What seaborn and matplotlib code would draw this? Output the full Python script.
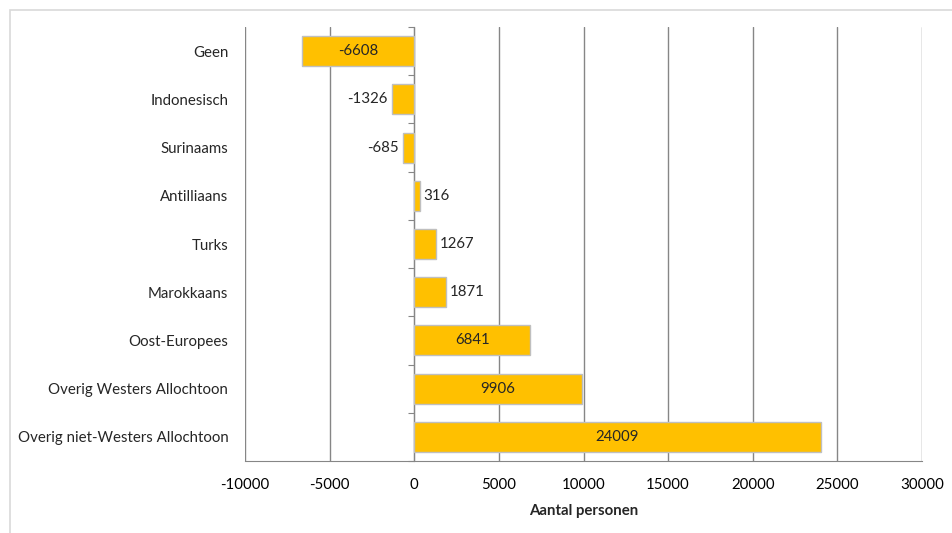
import matplotlib
matplotlib.use("Agg")
import matplotlib.pyplot as plt
import seaborn as sns
import pandas as pd
from matplotlib.patches import Rectangle

# chart data
categories = ["Geen", "Indonesisch", "Surinaams", "Antilliaans", "Turks",
              "Marokkaans", "Oost-Europees", "Overig Westers Allochtoon",
              "Overig niet-Westers Allochtoon"]
values = [-6608, -1326, -685, 316, 1267, 1871, 6841, 9906, 24009]
x_ticks = [-10000, -5000, 0, 5000, 10000, 15000, 20000, 25000, 30000]

df = pd.DataFrame({"Groep": categories, "Aantal": values})

sns.set_style("white")
plt.rcParams["font.family"] = ["Lato", "DejaVu Sans"]
fs = 10.8

grid_col = "#868686"

fig = plt.figure(figsize=(9.52, 5.33), dpi=100)
ax = fig.add_axes([245 / 952, 1 - 461 / 533, 677 / 952, 434 / 533])

# outer chart border
fig.patches.append(Rectangle((10 / 952, -0.1), 1.2, 1 - 10 / 533 + 0.1,
                             transform=fig.transFigure, fill=False,
                             edgecolor="#d9d9d9", linewidth=1.2))

sns.barplot(data=df, y="Groep", x="Aantal", orient="h", color="#FFC000",
            edgecolor="#bfbfbf", linewidth=1, width=0.62, saturation=1, ax=ax)

ax.set_xlim(x_ticks[0], x_ticks[-1])
ax.set_ylim(len(categories) - 0.5, -0.5)
ax.set_xticks(x_ticks)
ax.set_xticklabels([str(t) for t in x_ticks])
ax.xaxis.grid(True, color=grid_col, linewidth=1)
ax.set_axisbelow(True)

for s in ["top", "right", "left"]:
    ax.spines[s].set_visible(False)
ax.spines["bottom"].set_color(grid_col)
ax.tick_params(axis="x", direction="out", length=5, color=grid_col,
               labelcolor="black", pad=7, labelsize=fs)
ax.tick_params(axis="y", length=0, pad=12, labelsize=fs)

# category axis at x = 0 with boundary ticks
zero_pos = (0 - x_ticks[0]) / (x_ticks[-1] - x_ticks[0])
sec = ax.secondary_yaxis(zero_pos)
sec.set_yticks([i + 0.5 for i in range(-1, len(categories))])
sec.set_yticklabels([])
sec.tick_params(length=4, color=grid_col)
sec.spines["left"].set_color(grid_col)

ax.set_ylabel("")
ax.set_xlabel("Aantal personen", fontweight="bold", labelpad=9, fontsize=fs)

# data labels: inside for long bars, outside for short ones
inside = [str(v) if abs(v) > 3000 else "" for v in values]
outside = [str(v) if abs(v) <= 3000 else "" for v in values]
cont = ax.containers[0]
ax.bar_label(cont, labels=inside, label_type="center", fontsize=fs)
ax.bar_label(cont, labels=outside, label_type="edge", padding=3, fontsize=fs)

fig.savefig("out.png", dpi=100)
